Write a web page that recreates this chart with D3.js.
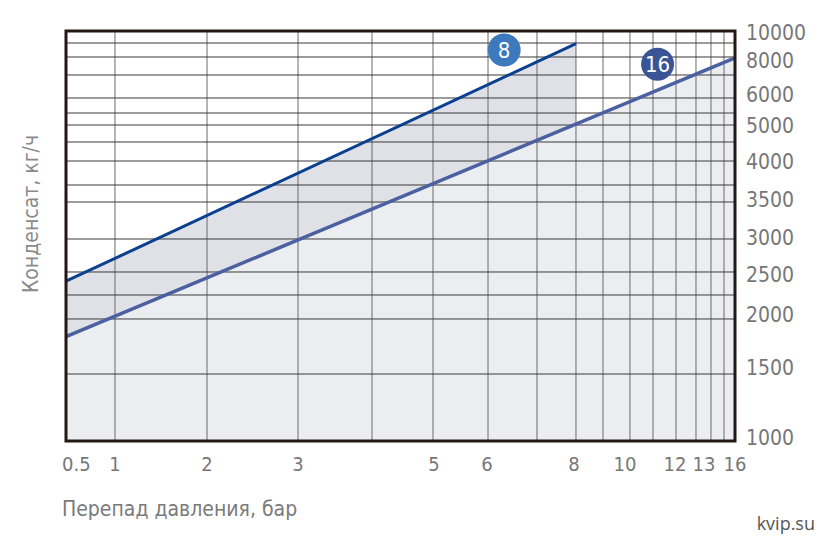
<!DOCTYPE html>
<html><head><meta charset="utf-8">
<script src="https://cdn.jsdelivr.net/npm/d3@7"></script>
<style>
body{margin:0;background:#fff;}
text{font-family:"DejaVu Sans Condensed","DejaVu Sans",sans-serif;font-stretch:condensed;}
</style></head>
<body>
<svg id="chart" width="831" height="551"></svg>
<script>
// ---- data ----
const xGridValues = [0.5,1,2,3,4,5,6,7,8,9,10,11,12,13,14,15,16];
const xTickLabels = [0.5,1,2,3,5,6,8,10,12,13,16];
const yGridValues = [10000,9000,8000,7000,6000,5500,5000,4500,4000,3750,3500,3000,2500,2250,2000,1500,1000];
const yTickLabels = [10000,8000,6000,5000,4000,3500,3000,2500,2000,1500,1000];
const series8 = [[0.5,2400],[8,8950]];
const series16 = [[0.5,1840],[16,7950]];
const seriesNames = ["8","16"];
const badgePos = [[6.33,8500],[11.2,7600]];
const xTitle = "Перепад давления, бар";
const yTitle = "Конденсат, кг/ч";
const credit = "kvip.su";

// ---- layout (the chart's nomogram grid is non-uniform) ----
const L=66, R=735, T=31, B=441;
const xFrac = [0,0.0732,0.2108,0.3468,0.4574,0.5486,0.6308,0.7040,0.7623,0.8027,0.8430,0.8774,0.9118,0.9417,0.9641,0.9836,1];
const yFrac = [0,0.0293,0.0634,0.1073,0.1634,0.2,0.2293,0.2707,0.3171,0.3756,0.4171,0.5073,0.5878,0.6439,0.7024,0.8366,1];
// small label nudges (px) as printed in the original
const xLabelDx = [-4,0,0,0,1,-1,-2,-5,-1,8,0];
const yLabelDy = [1,3,-4,0,0,-3,-2,2,-5,-7,-4];

const x = d3.scaleLinear().domain(xGridValues).range(xFrac.map(f=>L+f*(R-L)));
const y = d3.scaleLinear().domain(yGridValues).range(yFrac.map(f=>T+f*(B-T)));

const svg = d3.select("#chart");

// fills
const area = d3.area().x(d=>x(d[0])).y0(y(1000)).y1(d=>y(d[1]));
svg.append("path").datum(series8).attr("d",area).attr("fill","#dfe1e6");
svg.append("path").datum(series16).attr("d",area).attr("fill","#ebedf0");

// grid
svg.append("g").selectAll("line").data(xGridValues.slice(1,-1)).join("line")
  .attr("x1",d=>x(d)).attr("x2",d=>x(d)).attr("y1",T).attr("y2",B)
  .attr("stroke","#6a6a6a").attr("stroke-width",1);
svg.append("g").selectAll("line").data(yGridValues.slice(1,-1)).join("line")
  .attr("y1",d=>y(d)).attr("y2",d=>y(d)).attr("x1",L).attr("x2",R)
  .attr("stroke","#3a3a3a").attr("stroke-width",1);

// lines
const line = d3.line().x(d=>x(d[0])).y(d=>y(d[1]));
svg.append("path").datum(series8).attr("d",line).attr("fill","none").attr("stroke","#0b3f8f").attr("stroke-width",3);
svg.append("path").datum(series16).attr("d",line).attr("fill","none").attr("stroke","#4b60a0").attr("stroke-width",3.5);

// frame
svg.append("rect").attr("x",L).attr("y",T).attr("width",R-L).attr("height",B-T)
  .attr("fill","none").attr("stroke","#231815").attr("stroke-width",3);

// badges
const badgeColors = ["#3c79bd","#3a5596"];
const bg = svg.append("g").selectAll("g").data(seriesNames).join("g")
  .attr("transform",(d,i)=>`translate(${x(badgePos[i][0])},${y(badgePos[i][1])})`);
bg.append("circle").attr("r",16.5).attr("fill",(d,i)=>badgeColors[i]);
bg.append("text").text(d=>d).attr("text-anchor","middle").attr("dy","0.36em")
  .attr("fill","#fff").attr("font-size",22);

// x ticks
svg.append("g").selectAll("text").data(xTickLabels).join("text")
  .attr("x",(d,i)=>x(d)+xLabelDx[i]).attr("y",471)
  .attr("text-anchor",(d,i)=>i===0?"start":"middle")
  .attr("fill","#777").attr("font-size",20).text(d=>d);

// y ticks
svg.append("g").selectAll("text").data(yTickLabels).join("text")
  .attr("x",746).attr("y",(d,i)=>y(d)+yLabelDy[i]).attr("dy","0.36em")
  .attr("fill","#777").attr("font-size",21).text(d=>d);

// titles
svg.append("text").attr("x",62).attr("y",516).attr("fill","#7a7a7a").attr("font-size",21).text(xTitle);
svg.append("text").attr("transform",`translate(38,214) rotate(-90)`).attr("text-anchor","middle")
  .attr("fill","#8a8a8a").attr("font-size",21).text(yTitle);
svg.append("text").attr("x",815).attr("y",530).attr("text-anchor","end")
  .attr("fill","#555").attr("font-size",18)
  .style("font-family","'Open Sans',sans-serif").style("font-stretch","normal").text(credit);
</script>
</body></html>
